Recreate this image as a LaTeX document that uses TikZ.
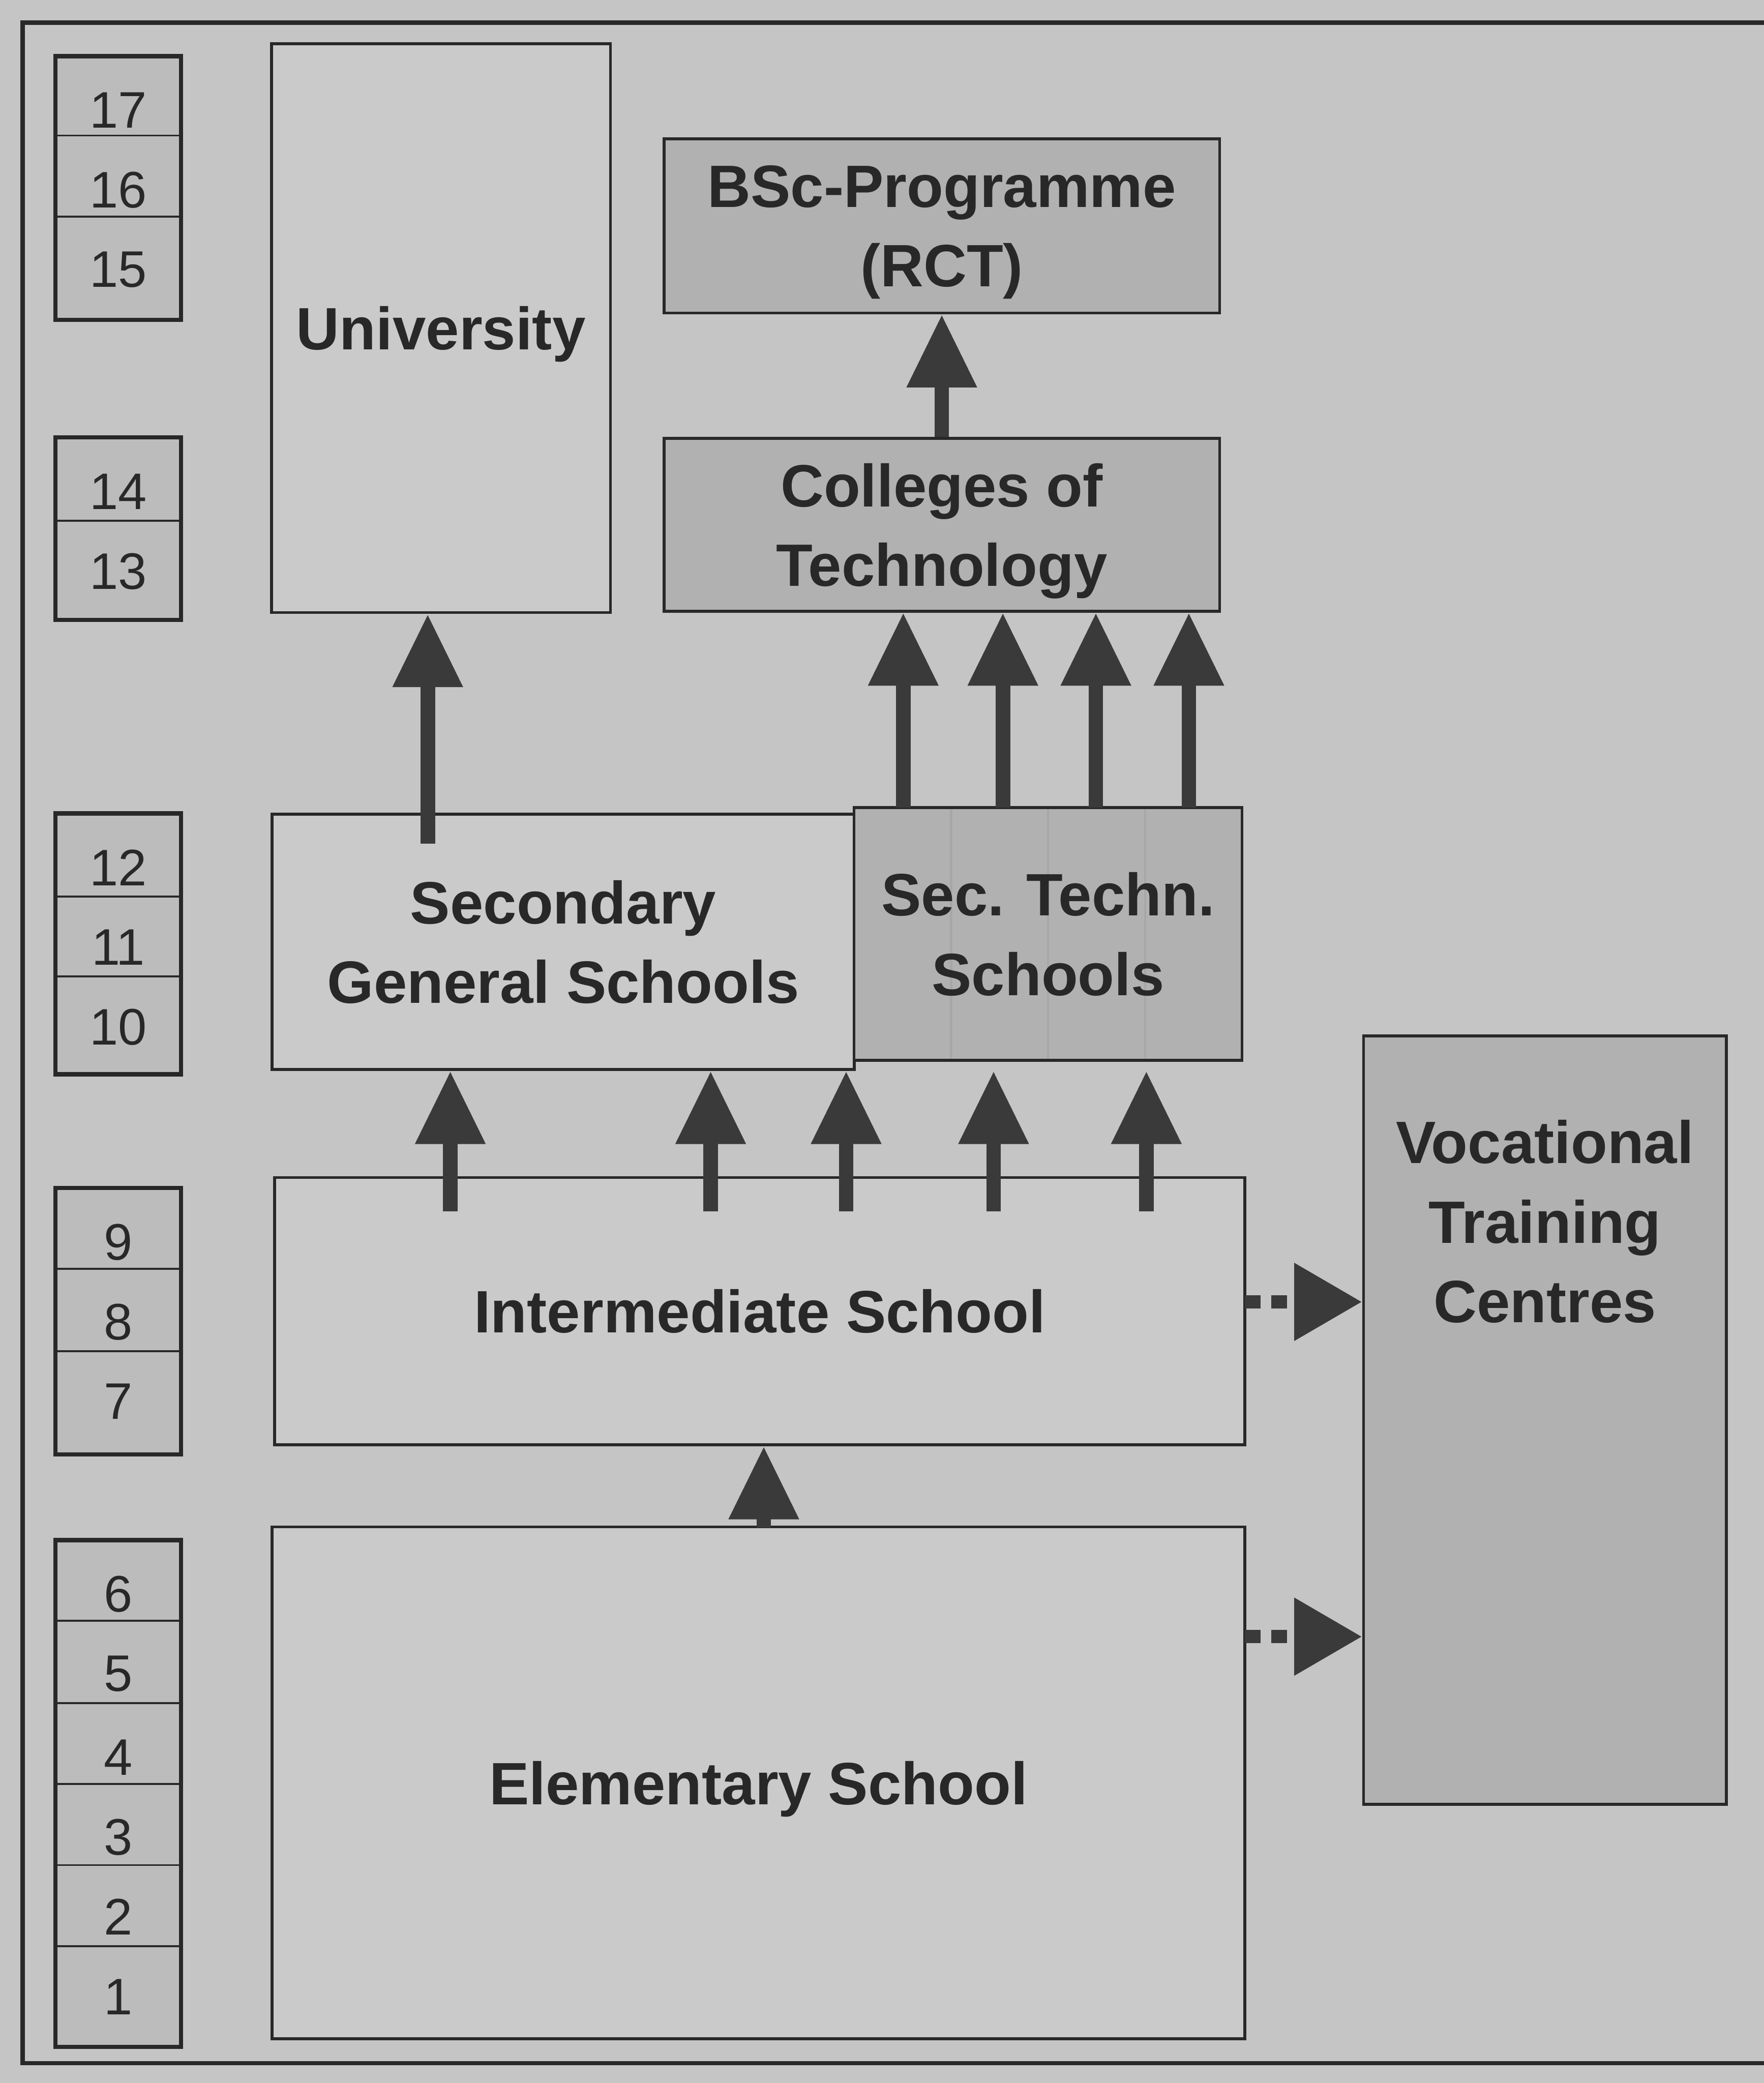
\documentclass[tikz,border=0pt]{standalone}
\usepackage{fontspec}
\setmainfont{Liberation Sans}
\usetikzlibrary{arrows.meta,positioning,calc}

\definecolor{paper}{RGB}{197,197,197}
\definecolor{lightbox}{RGB}{202,202,202}
\definecolor{darkbox}{RGB}{177,177,177}
\definecolor{yearbox}{RGB}{188,188,188}
\definecolor{ink}{RGB}{40,40,40}
\definecolor{arrowgray}{RGB}{58,58,58}

\tikzstyle{box} = [draw=ink, line width=0.6pt, rectangle, inner sep=0pt, align=center, text=ink, text depth=0pt, font=\bfseries\fontsize{12.8}{17}\selectfont]
\tikzstyle{wbox} = [box, fill=lightbox]
\tikzstyle{gbox} = [box, fill=darkbox]

\begin{document}
\begin{tikzpicture}[x=0.01cm, y=-0.01cm,
    cell/.style = {draw=ink, line width=0.4pt, fill=yearbox, minimum width=0.93cm, inner sep=0pt},
    num/.style = {text=ink, font=\fontsize{11}{13}\selectfont},
    faint/.style = {draw=gray!20!darkbox, line width=0.5pt},
    up/.style = {draw=arrowgray, line width=0.11cm, -{Triangle[length=0.55cm,width=0.5cm]}},
    side/.style = {draw=arrowgray, line width=0.1cm, dash pattern=on 0.12cm off 0.08cm, -{Triangle[length=0.51cm,width=0.56cm]}}]
    \fill[paper] (0,0) rectangle (1328,1568);
    \useasboundingbox (0,0) rectangle (1328,1568);
    \draw[ink, line width=0.9pt] (17,17) rectangle (1345,1553);

    % school years
    \foreach \n/\t/\b/\c in {17/43/102/83, 16/102/163/143, 15/163/240/203,
                             14/330/392/370, 13/392/466/430,
                             12/613/675/653, 11/675/735/713, 10/735/808/773,
                             9/895/955/935, 8/955/1017/995, 7/1017/1094/1055,
                             6/1160/1220/1200, 5/1220/1282/1260, 4/1282/1343/1323,
                             3/1343/1404/1383, 2/1404/1465/1443, 1/1465/1540/1503}{
        \node[cell, minimum height={(\b-\t)*0.01cm}] (y\n) at (89,{(\t+\b)/2}) {};
        \node[num] (n\n) at (89,\c) {\n};
    }
    \foreach \a/\z in {17/15, 14/13, 12/10, 9/7, 6/1}
        \draw[ink, line width=0.9pt] (y\a.north west) rectangle (y\z.south east);

    % schools
    \node[wbox, minimum width=2.55cm, minimum height=4.28cm] (univ) at (332,247) {University};
    \node[gbox, minimum width=4.18cm, minimum height=1.31cm] (bsc) at (709,170) {BSc-Programme\\(RCT)};
    \node[gbox, minimum width=4.18cm, minimum height=1.30cm] (cot) at (709,395) {Colleges of\\Technology};
    \node[wbox, minimum width=4.38cm, minimum height=1.92cm] (sgs) at (424,709) {Secondary\\General Schools};
    \node[gbox, minimum width=2.92cm, minimum height=1.90cm,
        path picture={\foreach \f in {0.25,0.5,0.75}
            \draw[faint] ($(path picture bounding box.south west)!\f!(path picture bounding box.south east)$)
                      -- ($(path picture bounding box.north west)!\f!(path picture bounding box.north east)$);}]
        (sts) at (789,703) {Sec. Techn.\\Schools};
    \node[wbox, minimum width=7.30cm, minimum height=2.01cm] (inter) at (572,987) {Intermediate School};
    \node[wbox, minimum width=7.32cm, minimum height=3.85cm] (elem) at (571,1342) {Elementary School};
    \node[gbox, minimum width=2.73cm, minimum height=5.78cm] (voc) at (1163,1069) {};
    \node[below=0.52cm of voc.north, align=center, text=ink, font=\bfseries\fontsize{12.8}{17}\selectfont] (voctext) {Vocational\\Training\\Centres};

    % transitions
    \draw[up] (cot.north) -- (bsc.south);
    \coordinate (s0) at (322,635);
    \draw[up] (s0) -- (s0 |- univ.south);
    \foreach \x [count=\i] in {680,755,825,895}{
        \coordinate (t\i) at (\x,608);
        \draw[up] (t\i) -- (t\i |- cot.south);
    }
    \foreach \x [count=\i] in {339,535,637,748,863}{
        \coordinate (m\i) at (\x,912);
        \draw[up] (m\i) -- (m\i |- sgs.south);
    }
    \coordinate (e0) at (575,1150);
    \draw[up] (e0) -- (e0 |- inter.south);
    \coordinate (d1) at (937,980);
    \coordinate (d2) at (937,1232);
    \draw[side] (d1) -- (d1 -| voc.west);
    \draw[side] (d2) -- (d2 -| voc.west);
\end{tikzpicture}
\end{document}
